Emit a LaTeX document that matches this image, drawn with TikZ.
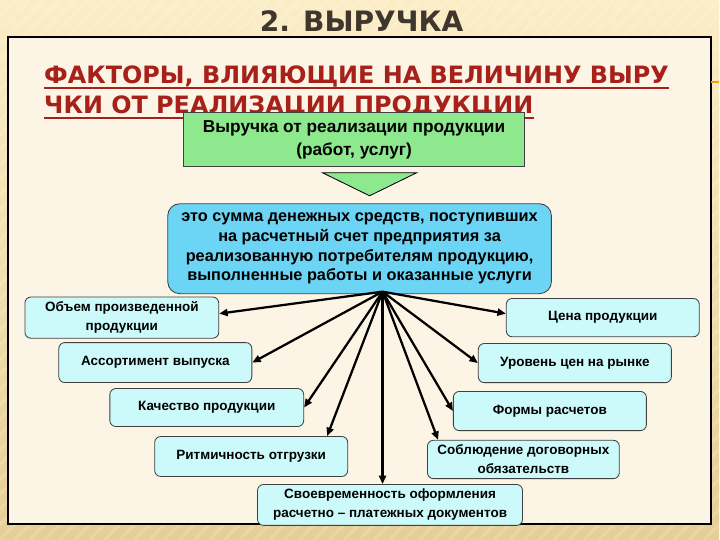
\documentclass[tikz,border=0pt]{standalone}
\usepackage{fontspec}
\setmainfont{Liberation Sans}
\newfontfamily\headfont{DejaVu Sans}
\usetikzlibrary{positioning,calc,arrows.meta,shapes.geometric}

\definecolor{pagebg}{HTML}{FCF4E4}
\definecolor{rimtop}{HTML}{FBEDC6}
\definecolor{rimbot}{HTML}{E6CF94}
\definecolor{titlegray}{HTML}{3F362D}
\definecolor{headred}{HTML}{A8201A}
\definecolor{mintgreen}{HTML}{8EE88E}
\definecolor{skyblue}{HTML}{6CD4F4}
\definecolor{palecyan}{HTML}{CCFAFA}

\tikzset{
  x=0.025cm,y=-0.025cm,
  factor/.style args={#1,#2}{
  draw=black!75,
  fill=palecyan,
  rounded corners=1.5mm,
  line width=0.6pt,
  align=center,
  font=\bfseries\fontsize{9.6}{13.5}\selectfont,
  minimum width=#1 cm,
  minimum height=#2 cm,
  },
  mainbox/.style={draw=black!75,fill=mintgreen,line width=0.6pt,align=center,
  font=\bfseries\fontsize{12.3}{16}\selectfont,minimum width=8.53cm,minimum height=1.35cm},
  defbox/.style={draw=black!75,fill=skyblue,rounded corners=3mm,line width=0.6pt,align=center,
  font=\bfseries\fontsize{11.6}{14}\selectfont,minimum width=9.6cm,minimum height=2.25cm},
  arr/.style={-{Triangle[length=6pt,width=5pt]},line width=1.6pt},
  heading/.style={headred,inner sep=0pt,anchor=base west,
  font=\headfont\bfseries\fontsize{17}{20}\selectfont}
}

\begin{document}
\begin{tikzpicture}

  % backdrop and panel
  \fill[top color=rimtop,bottom color=rimbot] (0,0) rectangle (720,540);
  \begin{scope}
    \clip (0,0) rectangle (720,540);
    \foreach \s in {-540,-525,...,720}
      \draw[white,opacity=0.18,line width=2pt] (\s,540) -- ++(540,-540);
  \end{scope}
  \draw[line width=1.4pt,fill=pagebg] (8,37) rectangle (712,525);
  \draw[orange!80!yellow,line width=1.2pt] (712,82) -- (720,82);

  % headings
  \node[font=\headfont\bfseries\fontsize{20}{24}\selectfont,text=titlegray,inner sep=0pt,anchor=base] (title) at (362,32) {2. ВЫРУЧКА};
  \node[heading] (hd1) at (44,84) {ФАКТОРЫ, ВЛИЯЮЩИЕ НА ВЕЛИЧИНУ ВЫРУ};
  \node[heading] (hd2) at (44,114) {ЧКИ ОТ РЕАЛИЗАЦИИ ПРОДУКЦИИ};
  \draw[headred,line width=1pt] ($(hd1.base west)+(0,4)$) -- ($(hd1.base east)+(0,4)$);
  \draw[headred,line width=1pt] ($(hd2.base west)+(0,4)$) -- ($(hd2.base east)+(0,4)$);

  % centre
  \node[mainbox] (rev) at (354.5,140) {Выручка от реализации продукции\\(работ, услуг)};
  \draw[fill=mintgreen,line width=0.6pt] (323,173) -- (417,173) -- (370,196) -- cycle;
  \node[defbox] (def) at (360,249) {это сумма денежных средств, поступивших\\на расчетный счет предприятия за\\реализованную потребителям продукцию,\\выполненные работы и оказанные услуги};
  \coordinate (hub) at (383,292);

  % factors
  \node[factor={4.85,1.0}] (vol) at (122,318) {Объем произведенной\\продукции};
  \node[factor={4.83,1.0}] (range) at (155.5,363) {Ассортимент выпуска};
  \node[factor={4.85,0.95}] (qual) at (207,408) {Качество продукции};
  \node[factor={4.83,1.0}] (ship) at (251.5,457) {Ритмичность отгрузки};
  \node[factor={6.63,0.98}] (docs) at (390.5,505.5) {Своевременность оформления\\расчетно – платежных документов};
  \node[factor={4.83,0.96}] (price) at (603.5,318) {Цена продукции};
  \node[factor={4.83,0.98}] (market) at (575.5,363.5) {Уровень цен на рынке};
  \node[factor={4.83,0.98}] (pay) at (550.5,411.5) {Формы расчетов};
  \node[factor={4.8,0.96}] (contr) at (524,460) {Соблюдение договорных\\обязательств};

  % arrows
  \draw[arr] (hub) -- ($(vol.east)+(0,-4)$);
  \draw[arr] (hub) -- (range.east);
  \draw[arr] (hub) -- (qual.east);
  \draw[arr] (hub) -- ($(ship.north east)+(-21,0)$);
  \draw[arr] (hub) -- (hub |- docs.north);
  \draw[arr] (hub) -- ($(contr.north west)+(11,0)$);
  \draw[arr] (hub) -- (pay.west);
  \draw[arr] (hub) -- (market.west);
  \draw[arr] (hub) -- ($(price.west)+(0,-4)$);
\end{tikzpicture}
\end{document}
